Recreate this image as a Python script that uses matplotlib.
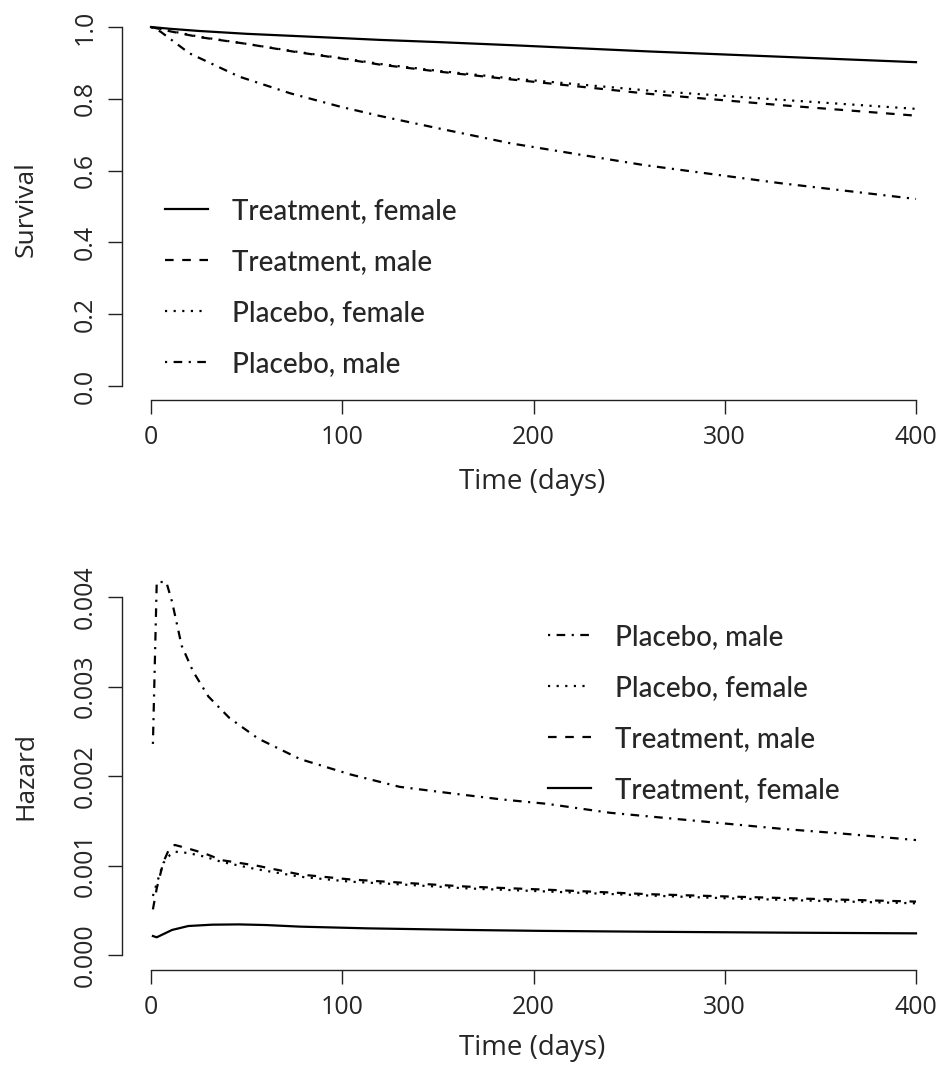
import matplotlib
matplotlib.use("Agg")
import matplotlib.pyplot as plt

# survival curves
surv_t = [0, 10, 25, 50, 75, 100, 120, 150, 190, 260, 330, 400]
surv_trt_f = [1.0, 0.995, 0.989, 0.981, 0.975, 0.969, 0.964, 0.958, 0.949, 0.932, 0.917, 0.902]
surv_trt_m = [1.0, 0.988, 0.972, 0.953, 0.931, 0.912, 0.895, 0.876, 0.853, 0.814, 0.782, 0.753]
surv_pla_f = [1.0, 0.989, 0.973, 0.953, 0.932, 0.913, 0.897, 0.878, 0.856, 0.823, 0.797, 0.772]
surv_pla_m_t = [0, 5, 20, 46, 73, 99, 119, 150, 188, 257, 329, 400]
surv_pla_m = [1.0, 0.987, 0.927, 0.862, 0.815, 0.778, 0.753, 0.718, 0.676, 0.616, 0.565, 0.521]

# hazard curves (x 1e-3)
haz_pm_t = [1, 3, 8, 11, 16, 22, 30, 41, 56, 78, 104, 130, 156, 183, 207, 240, 270, 300, 330, 360, 400]
haz_pm = [2.36, 4.17, 4.17, 3.95, 3.46, 3.17, 2.89, 2.65, 2.42, 2.19, 2.02, 1.88, 1.81, 1.74,
          1.69, 1.59, 1.53, 1.47, 1.41, 1.36, 1.285]
haz_t = [1, 3, 6.5, 10, 12.5, 19.5, 28, 37, 55, 78, 104, 130, 165, 207, 260, 300, 350, 400]
haz_tm = [0.51, 0.745, 1.04, 1.21, 1.23, 1.19, 1.136, 1.06, 1.00, 0.90, 0.845, 0.81, 0.765,
          0.73, 0.68, 0.655, 0.625, 0.597]
haz_pf = [0.66, 0.80, 1.03, 1.12, 1.155, 1.14, 1.10, 1.04, 0.96, 0.875, 0.82, 0.79, 0.745,
          0.71, 0.665, 0.635, 0.605, 0.578]
haz_tf_t = [1, 3, 11, 19.5, 32, 46, 60, 78, 113, 165, 203, 260, 330, 400]
haz_tf = [0.212, 0.198, 0.28, 0.324, 0.339, 0.342, 0.335, 0.317, 0.298, 0.28, 0.27, 0.26,
          0.25, 0.242]

labels = ["Treatment, female", "Treatment, male", "Placebo, female", "Placebo, male"]

plt.rcParams['lines.scale_dashes'] = False
u = 1.55
styles = {
    "solid": "-",
    "dashed": (0, (4 * u, 4 * u)),
    "dotted": (0, (u, 3 * u)),
    "dashdot": (0, (u, 3 * u, 4 * u, 3 * u)),
}
LW = 1.6
TXT = "#262626"
tick_font = "Open Sans"
leg_font = "Lato"

W, H = 939, 1077
fig = plt.figure(figsize=(W / 100, H / 100), dpi=100)

# pixel geometry
px_per_day = 1.9125
x0_px = 151
left_px = 122.3
xlim = ((left_px - x0_px) / px_per_day, (W - x0_px) / px_per_day)


def make_axes(top_px, bottom_px):
    ax = fig.add_axes([left_px / W, 1 - bottom_px / H, (W - left_px) / W, (bottom_px - top_px) / H])
    for s in ["top", "right"]:
        ax.spines[s].set_visible(False)
    for s in ["left", "bottom"]:
        ax.spines[s].set_linewidth(1.0)
        ax.spines[s].set_color("#222222")
    ax.set_xlim(*xlim)
    ax.set_xticks([0, 100, 200, 300, 400])
    ax.spines["bottom"].set_bounds(0, 400)
    ax.tick_params(axis="both", length=10, width=1.0, color="#222222", labelcolor=TXT, labelsize=18)
    ax.tick_params(axis="x", pad=8)
    ax.tick_params(axis="y", pad=8)
    return ax


def add_legend(ax, x_px, y_px):
    ax.legend(loc="upper left", bbox_to_anchor=(x_px / W, 1 - y_px / H),
              bbox_transform=fig.transFigure, frameon=False,
              prop={"family": leg_font, "size": 20, "weight": "medium"}, handlelength=1.55,
              handletextpad=0.85, labelspacing=0.9, borderpad=0, borderaxespad=0,
              labelcolor=TXT)


# top panel: survival
ax1 = make_axes(386 - 1.04 * 359, 386 + 0.04 * 359)
ax1.set_ylim(-0.04, 1.04)
ax1.plot(surv_t, surv_trt_f, color="black", lw=LW, linestyle=styles["solid"], label=labels[0])
ax1.plot(surv_t, surv_trt_m, color="black", lw=LW, linestyle=styles["dashed"], label=labels[1])
ax1.plot(surv_t, surv_pla_f, color="black", lw=LW, linestyle=styles["dotted"], label=labels[2])
ax1.plot(surv_pla_m_t, surv_pla_m, color="black", lw=LW, linestyle=styles["dashdot"], label=labels[3])
ax1.set_yticks([0, 0.2, 0.4, 0.6, 0.8, 1.0])
ax1.set_yticklabels(["0.0", "0.2", "0.4", "0.6", "0.8", "1.0"], rotation=90, va="center",
                    family=tick_font)
ax1.set_xticklabels(["0", "100", "200", "300", "400"], family=tick_font)
ax1.spines["left"].set_bounds(0, 1)
add_legend(ax1, 165, 198)

# bottom panel: hazard
scale = 89.45
ax2 = make_axes(955 - 4.368 * scale, 955 + 0.168 * scale)
ax2.set_ylim(-0.000168, 0.004368)
ax2.plot(haz_pm_t, [v / 1000 for v in haz_pm], color="black", lw=LW, linestyle=styles["dashdot"],
         label=labels[3])
ax2.plot(haz_t, [v / 1000 for v in haz_pf], color="black", lw=LW, linestyle=styles["dotted"],
         label=labels[2])
ax2.plot(haz_t, [v / 1000 for v in haz_tm], color="black", lw=LW, linestyle=styles["dashed"],
         label=labels[1])
ax2.plot(haz_tf_t, [v / 1000 for v in haz_tf], color="black", lw=LW, linestyle=styles["solid"],
         label=labels[0])
ax2.set_yticks([0, 0.001, 0.002, 0.003, 0.004])
ax2.set_yticklabels(["0.000", "0.001", "0.002", "0.003", "0.004"], rotation=90, va="center",
                    family=tick_font)
ax2.set_xticklabels(["0", "100", "200", "300", "400"], family=tick_font)
ax2.spines["left"].set_bounds(0, 0.004)
add_legend(ax2, 548, 624)

# axis titles
for y_px in (482, 1048):
    fig.text(532 / W, 1 - y_px / H, "Time (days)", ha="center", va="center", fontsize=20,
             family=tick_font, color=TXT)
fig.text(26 / W, 1 - 209 / H, "Survival", ha="center", va="center", rotation=90, fontsize=19,
         family=tick_font, color=TXT)
fig.text(26 / W, 1 - 776 / H, "Hazard", ha="center", va="center", rotation=90, fontsize=19,
         family=tick_font, color=TXT)

fig.savefig("out.png", dpi=100)
